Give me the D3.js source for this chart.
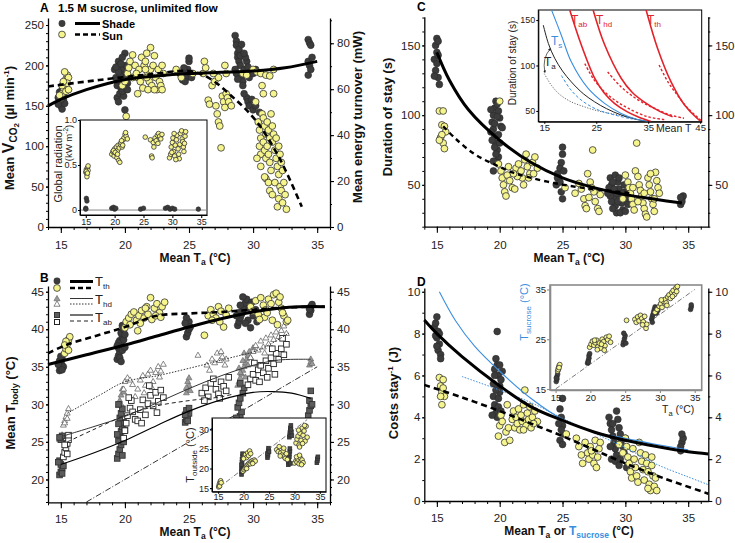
<!DOCTYPE html>
<html><head><meta charset="utf-8">
<script src="https://cdn.jsdelivr.net/npm/d3@7"></script>
<style>body{margin:0;background:#fff}svg{font-family:"Liberation Sans",Arial,sans-serif}</style>
</head><body><script>
// ---------------- DATA ----------------
// Panel A: mean VCO2 (µl/min) vs Ta
const A_shade=[[14.8,160],[14.9,155],[15.0,150],[15.1,146],[15.0,163],[15.2,158],[14.9,167],[15.1,170],[15.3,153],[15.0,157],[15.2,162],[14.8,152],[15.1,165],
[19.2,195],[19.3,185],[19.4,175],[19.5,205],[19.6,200],[19.4,160],[19.5,155],[19.6,165],[19.7,180],[19.8,190],[19.9,170],[20.0,215],[20.0,145],[19.8,210],[19.9,196],[20.1,186],[20.2,178],[19.6,188],[19.5,192],[19.7,172],[19.9,162],[19.8,168],[20.1,200],[19.3,198],[19.7,202],[20.2,170],[19.4,182],
[24.4,188],[24.5,182],[24.6,192],[24.8,185],[24.9,195],[25.0,205],[25.0,209],[25.1,190],[24.7,180],[24.3,190],[25.2,185],[24.6,197],
[28.6,237],[28.7,230],[28.7,225],[28.8,215],[28.8,210],[28.9,205],[29.0,200],[28.6,195],[28.7,190],[29.1,185],[29.2,180],[29.3,195],[29.4,190],[29.5,205],[29.6,198],[28.9,220],[29.0,212],[29.2,175],[29.7,185],[29.8,192],[30.0,190],[30.2,195],[28.8,183],[29.4,210],[29.1,226],[29.3,215],[29.5,160],[29.6,155],[29.7,150],[29.9,158],[30.0,145],[30.2,150],[30.5,142],[29.3,165],
[34.3,232],[34.4,228],[34.5,225],[34.3,205],[34.4,200],[34.5,195],[34.3,188],[34.6,210]];
const A_sun=[[15.0,160],[15.1,165],[15.2,172],[15.3,178],[15.4,183],[15.5,188],[15.6,185],[15.3,192],[15.1,175],[15.4,168],[15.5,178],[15.2,180],[15.6,170],[14.9,163],
[19.8,175],[20.0,180],[20.1,137],[20.2,190],[20.3,197],[20.4,205],[20.6,213],[20.8,200],[21.0,185],[21.0,165],[21.2,180],[21.3,210],[21.5,200],[21.6,205],[21.7,215],[21.8,190],[21.9,180],[22.0,222],[22.0,195],[22.1,175],[22.2,200],[22.3,212],[22.4,185],[22.5,170],[22.6,195],[22.7,180],[22.8,175],[22.9,200],[23.0,190],[21.4,172],[21.8,170],[22.3,170],[21.1,195],[20.6,185],[21.6,195],[22.9,170],[20.9,190],[21.7,185],
[24.0,195],[24.4,185],[25.3,190],[26.1,190],[26.3,197],[26.2,205],
[26.5,157],[26.6,152],[26.8,175],[27.0,180],[27.1,150],[27.2,140],[27.3,130],[27.4,125],[27.5,98],[27.6,162],[27.7,155],[27.8,148],[27.9,165],[28.0,160],[28.1,155],[27.3,185],[27.8,200],[26.9,190],[27.9,190],[28.3,150],
[29.2,190],[29.5,188],[30.0,195],[30.3,192],[30.6,190],[31.0,188],[31.3,187],[31.6,195],[30.7,175],[30.2,155],[30.8,165],[31.6,165],
[30.4,130],[30.5,120],[30.6,110],[30.5,100],[30.6,90],[30.7,140],[30.8,135],[30.9,125],[31.0,115],[30.8,105],[30.9,95],[31.0,85],[31.1,130],[31.2,120],[31.3,110],[31.1,100],[31.2,90],[31.3,80],[31.4,140],[31.5,125],[31.6,115],[31.5,105],[31.7,95],[31.4,70],[31.0,60],[30.9,62],[31.2,55],[31.3,45],[31.5,40],[31.8,85],[31.9,75],[32.0,65],[31.7,55],[32.1,50],[32.2,45],[32.0,35],[31.9,25],[32.3,30],[32.5,40],[32.4,55],[32.6,22],[32.2,80],[32.0,100],[31.8,110],[32.3,70],[32.1,90],[30.6,75],[30.3,85]];
const A_fitShade=[[14,150],[15,158],[17,170],[19.85,182],[22.5,187],[25,190],[27.5,191.5],[30,193],[32.5,197],[35,205]];
const A_fitSun=[[14,174],[18,182],[22,189],[25,193],[26.5,185],[28.4,161],[30.2,132],[32,87],[33.8,25]];
// Panel A inset: global radiation (kW m-2)
const Ai_sun=[[15.0,0.42],[15.1,0.45],[15.2,0.40],[15.3,0.47],[15.4,0.44],[15.2,0.37],[15.4,0.49],[15.1,0.43],[15.3,0.41],
[19.5,0.62],[19.7,0.65],[19.9,0.6],[20.0,0.68],[20.2,0.63],[20.3,0.7],[20.5,0.66],[20.6,0.72],[20.8,0.69],[21.0,0.73],[21.1,0.75],[21.3,0.7],[21.5,0.78],[21.6,0.8],[21.8,0.84],[22.0,0.82],[22.2,0.79],[20.4,0.58],[20.7,0.55],[20.9,0.53],[19.8,0.66],[20.1,0.64],[21.2,0.77],[21.9,0.86],[20.5,0.62],[21.4,0.72],
[25.3,0.81],[26.2,0.78],[26.4,0.6],[26.5,0.58],[26.7,0.75],[27.0,0.8],[27.2,0.77],[27.4,0.83],[27.6,0.85],[27.8,0.82],[28.0,0.79],[28.2,0.84],[26.8,0.7],[27.5,0.74],
[29.5,0.58],[29.7,0.62],[29.8,0.7],[30.0,0.75],[30.1,0.8],[30.2,0.65],[30.4,0.6],[30.5,0.72],[30.7,0.78],[30.8,0.83],[31.0,0.68],[31.1,0.62],[31.3,0.73],[31.4,0.85],[31.6,0.88],[31.7,0.79],[31.9,0.7],[32.0,0.65],[32.2,0.82],[32.3,0.87],[31.2,0.57],[30.6,0.56],[29.9,0.64],[31.8,0.76],[30.3,0.85],[32.1,0.74]];
const Ai_shade=[[15.0,0.02],[15.1,0.13],[15.2,0.1],[15.0,0.01],[19.5,0.02],[19.8,0.03],[20.0,0.01],[20.2,0.02],[24.5,0.01],[25.0,0.02],[28.8,0.02],[29.2,0.03],[29.6,0.01],[30.0,0.02],[30.4,0.01],[34.5,0.01]];

// Panel B: body temperatures
const B_thShade=[[14.9,34.5],[15.0,34.8],[15.1,35.2],[15.0,35.5],[14.9,35.8],[15.1,36.1],[15.0,36.4],[15.2,35.0],[14.8,35.3],[15.1,34.6],
[19.4,36.0],[19.5,36.5],[19.6,37.0],[19.5,37.5],[19.7,38.0],[19.6,38.5],[19.8,39.0],[19.7,39.5],[19.9,40.0],[19.5,38.2],[19.8,37.2],[19.6,36.2],[19.9,38.6],[20.0,39.3],[19.4,37.8],[19.7,35.7],[20.0,37.6],[19.8,40.5],
[24.8,39.0],[24.9,39.5],[25.0,40.0],[24.9,40.5],[25.0,41.0],[24.8,41.5],[25.1,40.3],[24.7,40.8],
[28.8,40.5],[28.9,41.0],[29.0,41.5],[29.1,42.0],[29.2,42.5],[29.3,43.0],[29.4,43.5],[29.5,44.0],[29.2,44.3],[28.9,42.2],[29.6,41.2],[29.7,42.8],[29.8,40.2],[30.0,41.8],[30.2,42.6],[29.4,40.8],[29.0,43.2],[29.9,43.6],[30.3,41.0],[28.7,41.8],
[34.4,42.0],[34.5,42.5],[34.5,43.0],[34.6,43.3],[34.4,42.7]];
const B_thSun=[[15.3,36.8],[15.4,37.4],[15.5,38.0],[15.6,38.6],[15.7,39.0],[15.4,38.4],[15.6,37.2],[15.3,37.9],
[20.0,40.2],[20.1,41.0],[20.3,41.5],[20.5,42.0],[20.7,42.3],[20.4,40.6],[20.9,41.2],[21.1,41.8],[21.3,42.5],[21.5,41.5],[21.7,43.0],[21.8,42.0],[22.0,44.2],[22.1,41.3],[22.3,42.8],[22.5,43.4],[22.7,42.2],[22.9,43.0],[23.1,43.6],[21.2,40.8],[21.0,39.8],[22.4,41.8],[21.6,42.8],[22.8,41.6],
[26.2,39.2],[26.5,41.8],[26.7,42.6],[26.9,42.0],[27.1,41.5],[27.3,43.0],[27.5,42.4],[27.7,40.3],[27.9,41.9],[28.1,42.8],[26.8,41.2],[27.4,41.0],
[29.8,43.0],[30.0,42.4],[30.2,43.8],[30.4,42.0],[30.6,44.2],[30.8,43.2],[31.0,42.6],[31.2,44.0],[31.4,43.4],[31.6,44.6],[31.8,44.8],[32.0,43.6],[32.2,42.8],[32.4,41.8],[32.6,41.0],[32.3,42.2],[31.5,41.2],[30.9,41.6],[31.9,40.6],[32.7,41.2],[31.1,42.2],[30.5,41.3],[32.1,44.3]];
const B_hdShade=[[15.0,25.6],[15.1,25.9],[14.9,25.3],
[19.6,30.5],[19.7,31.2],[19.8,32.0],[19.5,29.8],[19.9,31.6],[19.7,30.0],
[24.8,31.5],[24.9,32.0],[25.0,32.5],[24.9,33.0],[25.0,33.5],[24.8,32.2],[25.1,31.8],
[28.8,32.5],[28.9,33],[29.0,33.5],[29.1,34],[29.2,34.5],[29.3,35],[29.4,35.5],[29.5,36],[29.6,36.5],[29.7,37],[29.0,34.2],[29.2,35.8],[29.4,33.6],[28.9,34.8],[29.6,35.2],[29.8,36.2],[30.0,37.5],[29.3,36.8],
[34.4,35.2],[34.5,35.6],[34.5,36.0],[34.6,35.4]];
const B_hdSun=[[15.2,27.2],[15.3,27.8],[15.4,28.3],[15.5,28.8],[15.6,29.4],[15.3,27.5],[15.5,28.1],
[19.9,32.0],[20.0,33.0],[20.2,33.5],[20.4,33.2],[20.6,32.6],[21.0,32.0],[21.2,33.2],[21.4,33.8],[21.6,32.5],[21.8,34.0],[22.0,34.5],[22.2,33.0],[22.4,34.2],[22.6,35.0],[22.8,34.4],[23.0,35.3],[21.5,31.5],[22.1,32.2],[20.8,31.0],[22.7,33.6],
[25.7,36.5],[26.4,35.2],[26.6,34.5],[26.8,36.0],[27.0,35.5],[27.2,36.8],[27.4,35.8],[27.6,36.3],[27.8,35.2],[27.9,36.0],[27.5,37.0],
[29.8,36.2],[30.0,37.0],[30.2,37.8],[30.4,37.2],[30.6,38.4],[30.8,37.6],[31.0,38.8],[31.2,38.0],[31.4,39.2],[31.6,38.6],[31.8,39.6],[32.0,39.0],[32.2,39.8],[32.4,40.4],[32.6,39.4],[31.5,37.4],[30.9,36.8]];
const B_abShade=[[14.9,20.6],[15.0,21.0],[15.1,21.5],[15.0,22.0],[14.9,22.5],[15.2,21.8],[15.1,20.8],[14.8,22.3],[15.0,25.3],[15.1,25.8],[14.9,25.6],
[19.4,22.8],[19.5,23.4],[19.6,24.0],[19.7,24.6],[19.5,25.2],[19.6,25.8],[19.7,26.4],[19.8,27.0],[19.9,27.6],[19.6,28.2],[19.7,28.8],[19.8,29.4],[19.5,30.0],[19.4,26.0],[19.9,25.0],[20.0,26.6],[19.8,23.2],[19.5,27.4],
[24.7,27.6],[24.8,28.0],[24.9,28.4],[25.0,28.8],[24.8,29.2],[24.9,27.8],[25.0,29.5],[24.7,28.6],
[28.7,26.5],[28.8,27.2],[28.9,27.8],[29.0,28.4],[29.1,29.0],[28.8,29.6],[28.9,30.2],[29.0,30.8],[28.7,28.2],[29.1,27.0],[29.2,31.5],[29.3,32.2],[29.0,32.8],
[34.3,28.5],[34.4,29.2],[34.5,29.8],[34.4,30.5],[34.5,31.8],[34.6,30.0]];
const B_abSun=[[15.2,23.0],[15.3,23.6],[15.4,24.2],[15.5,24.8],[15.6,25.3],[15.3,24.6],[15.5,23.4],[15.6,25.9],
[19.9,25.5],[20.0,26.5],[20.1,27.5],[20.2,28.5],[20.4,29.5],[20.5,30.5],[20.6,29.0],[20.8,28.0],[21.0,27.8],[21.2,29.3],[21.4,30.6],[21.6,28.6],[21.8,30.1],[22.0,31.2],[22.2,29.8],[22.4,31.6],[22.6,30.4],[22.8,31.9],[23.0,30.9],[21.3,27.5],[20.3,30.9],[21.9,32.5],[22.5,28.9],
[26.0,31.5],[26.3,32.2],[26.5,31.0],[26.7,32.8],[26.9,33.4],[27.1,32.0],[27.3,31.4],[27.5,33.0],[27.7,32.4],[27.9,31.8],[28.1,33.6],[27.4,30.8],[26.2,30.5],
[29.6,32.6],[29.8,33.4],[30.0,34.0],[30.2,33.2],[30.4,34.6],[30.6,35.2],[30.8,34.2],[31.0,35.8],[31.2,34.8],[31.4,36.2],[31.6,35.4],[31.8,36.8],[32.0,36.0],[32.2,37.4],[32.4,36.6],[32.6,38.0],[30.5,33.0],[31.1,33.6],[31.7,34.0],[32.3,38.8],[30.1,35.5],[31.5,37.4]];
const B_fitThShade=[[14,35.3],[17,36.6],[20,37.9],[22.5,39.1],[25,40.3],[27.5,41.4],[30,42.3],[32,42.8],[33.6,43],[35.6,43]];
const B_fitThSun=[[14,36.8],[15.4,37.9],[17.5,39.0],[20,40.3],[22.5,41.8],[25,42.1],[27.5,42.3],[30,42.6],[32.5,42.9],[35.6,43]];
const B_fitHdShade=[[15.2,25.8],[17.5,27],[20,28.4],[22.5,30.2],[25,32.1],[27.5,33.8],[30,35.2],[32,35.9],[34.5,36.0]];
const B_fitHdSun=[[15.5,28.8],[18,31.2],[20,33.0],[22.5,33.8],[25,34.8],[28,36.1],[30.5,37.3],[32.8,39.5]];
const B_fitAbShade=[[15,22],[17.5,23.5],[20,25.2],[22.5,27.2],[25,29.1],[27.5,30.6],[30,31.6],[31.5,31.7],[33,31.5],[34.5,30.8]];
const B_fitAbSun=[[15.5,25],[17.5,26.6],[20,28.5],[22.5,29.8],[25,30.5],[27.5,31.0],[28.5,31.4]];
const B_identity=[[17,17],[35,35]];
// Panel B inset: T outside
const Bi_sun=[[15.1,15.3],[15.2,15.8],[15.3,16.2],[15.4,16.6],[15.5,16.9],[15.3,15.5],[15.6,16.4],
[19.9,19.3],[20.1,19.7],[20.3,20.1],[20.5,20.4],[20.7,20.8],[20.9,21.1],[21.1,21.4],[21.3,21.2],[21.5,21.8],[21.7,22.0],[21.9,21.6],[22.1,22.2],[22.3,21.9],[20.2,23.0],[20.4,23.6],[20.6,22.8],[20.8,24.0],[21.0,23.3],[21.2,24.5],[21.4,23.8],[20.0,22.5],[20.6,20.0],[21.8,21.3],
[26.5,24.8],[26.8,24.3],[27.0,25.6],[27.3,24.0],[27.6,23.5],[27.8,24.5],[28.0,23.0],[28.2,22.6],[28.4,23.8],[28.6,22.3],[27.2,23.2],[27.9,25.2],
[30.0,21.4],[30.3,22.0],[30.5,21.6],[30.7,22.4],[30.9,21.2],[31.1,22.8],[31.3,21.8],[31.5,22.2],[31.7,21.5],[30.4,23.0],[31.0,23.4],[31.4,21.0],
[30.3,26.5],[30.5,27.5],[30.7,28.3],[30.9,26.0],[31.1,29.0],[31.3,27.2],[31.5,30.3],[31.7,28.5],[31.9,29.6],[32.1,27.0],[32.3,30.8],[32.5,28.0],[31.0,25.5],[31.6,26.4],[32.0,31.0],[30.8,29.8]];
const Bi_shade=[[19.6,18.5],[19.6,19.2],[19.6,20.0],[19.7,20.8],[19.7,21.6],[19.7,22.4],[19.8,23.1],[19.8,23.8],[19.6,21.0],[19.7,19.6],
[24.7,22.8],[24.8,23.4],[24.8,24.0],[24.9,24.6],[24.9,25.2],[24.7,23.8],[25.0,24.3],
[28.8,21.0],[28.9,21.6],[28.9,22.3],[29.0,23.0],[29.0,23.7],[29.1,24.4],[29.1,25.1],[28.8,22.0],[29.2,21.3],
[29.0,28.0],[29.1,28.6],[29.1,29.2],[29.2,29.8],[29.2,30.4],[29.3,31.0],[29.4,29.4],[29.5,28.4],[29.3,30.0],
[34.4,21.5],[34.5,22.0],[34.5,22.5],[34.6,23.0]];
const Bi_identity=[[15,15],[32.5,32.5]];

// Panel C: duration of stay (s)
const C_shade=[[14.8,140],[14.9,150],[15.0,155],[15.1,153],[15.0,145],[14.9,132],[15.1,127],[15.2,122],[15.0,137],[15.1,143],[14.8,128],
[19.4,95],[19.5,100],[19.6,105],[19.7,110],[19.8,108],[19.9,103],[19.5,90],[19.6,85],[19.7,80],[19.8,75],[19.9,70],[20.0,98],[20.1,92],[19.3,88],[19.4,82],[19.6,77],[19.8,66],[19.5,60],[19.7,72],[19.9,86],[20.0,80],[20.2,91],[19.3,104],[19.6,94],[19.8,99],[19.5,67],
[24.5,50],[24.6,58],[24.8,62],[24.9,66],[25.0,72],[25.0,77],[24.7,55],[24.9,45],[25.0,40],[24.6,55],[25.1,60],[24.8,52],
[28.8,55],[28.9,50],[29.0,45],[29.1,40],[29.2,35],[29.3,30],[28.7,48],[28.8,42],[28.9,38],[29.0,33],[29.4,52],[29.5,47],[29.6,42],[29.7,37],[29.8,32],[29.9,50],[30.0,45],[30.1,40],[30.2,36],[29.2,57],[29.5,55],[29.3,44],[29.6,30],[30.3,47],[29.0,52],[29.4,38],[29.8,44],[30.0,31],[28.6,44],[29.1,47],
[34.4,36],[34.5,40],[34.6,42],[34.5,38],[34.4,41]];
const C_sun=[[15.2,103],[15.5,103],[15.4,93],[15.6,92],[15.7,88],[15.3,84],[15.5,80],[15.6,76],[15.4,86],[15.2,82],
[20.0,110],[19.9,65],[20.1,60],[20.2,55],[20.3,50],[20.4,45],[20.5,42],[20.6,57],[20.8,53],[21.0,48],[21.2,47],[21.3,62],[21.5,65],[21.7,60],[21.8,55],[22.0,68],[22.1,72],[22.2,63],[22.4,58],[22.6,66],[22.8,70],[23.0,62],[21.9,50],[22.3,55],[21.4,56],[20.7,63],[22.7,58],[21.1,58],
[25.2,48],[26.0,44],[26.3,51],[26.5,47],[26.7,40],[26.8,35],[26.9,33],[27.0,58],[27.2,52],[27.4,75],[27.5,45],[27.6,38],[27.8,33],[27.9,31],[28.0,43],[27.3,48],[27.1,41],
[29.8,40],[30.0,57],[30.2,52],[30.3,48],[30.4,44],[30.5,40],[30.6,36],[30.7,32],[30.8,60],[30.9,80],[31.0,56],[31.1,50],[31.2,46],[31.3,42],[31.4,37],[31.5,33],[31.6,29],[31.7,27],[31.8,55],[31.9,50],[32.0,45],[32.1,40],[32.2,36],[32.3,31],[32.4,59],[32.5,53],[32.6,48],[32.7,44],[31.0,38],[31.5,44],[32.0,58],[30.6,48],[32.3,40]];
const C_fitShade=[[15,145],[16,125],[17.5,104],[20,82],[22.5,66],[25,55],[27.5,48],[30,43],[32.5,39.5],[34.5,37]];
const C_fitSun=[[15.5,92],[16.5,83],[18,72],[19.5,65],[21,59],[22.5,55],[24.5,51],[26.5,48],[28.5,46],[30.5,44]];
// Panel C inset curves: duration vs mean temperature
const Ci_TaShade=[[14.8,144.5],[15.8,124],[17,108],[18.5,94],[20.2,82],[22.5,69],[24.7,60],[27,52.5],[29.8,45.6],[32.5,41],[34.9,38.5]];
const Ci_TaSun=[[15,91],[16.4,78],[18,68],[20.2,60],[22.5,55],[24.7,51],[27,48],[29.8,45],[33,40.5]];
const Ci_TsShade=[[16.4,161],[18.3,133],[20.2,104],[23.4,75],[26.6,58.4],[29.8,47.3],[32.5,41.5],[34.9,38.5]];
const Ci_TsSun=[[18.3,89],[20,74],[22.1,62],[25,52],[28.5,45.6],[32,41]];
const Ci_TabShade=[[19.9,161],[22.1,123],[24.7,86],[26.5,70],[28.5,58.4],[31,49],[33,43.7],[35.5,38.5]];
const Ci_TabSun=[[22.8,102],[24.5,85],[26.6,71],[28.8,61],[31.1,53],[34.9,43.7],[38.1,40.5]];
const Ci_ThdShade=[[24.4,161],[26.6,123],[29.8,86],[32,70],[34.2,60],[37.4,49],[39.7,43.7]];
const Ci_ThdSun=[[27.2,93],[29.5,78],[31.7,67.5],[34,59],[36.2,53],[39,46],[41.9,42]];
const Ci_TthShade=[[34.6,161],[36.8,119],[39.4,82],[42,56.5],[44.4,42],[45.1,39]];
const Ci_TthSun=[[37.1,100.5],[38.8,82],[40.6,67.5],[42.8,52],[45.1,40]];

// Panel D: costs per stay (J)
const D_shade=[[14.8,8.3],[14.9,8.5],[15.0,8.8],[15.1,8.1],[15.0,7.8],[15.2,7.5],[15.1,7.2],[15.3,7.0],[14.9,7.9],[15.2,8.0],[15.0,7.4],[15.3,6.8],
[19.6,6.3],[19.7,6.8],[19.8,6.5],[19.9,6.0],[20.0,5.5],[20.1,5.8],[19.5,5.0],[19.6,4.6],[19.7,4.2],[19.8,4.0],[19.9,4.9],[20.0,5.2],[19.8,8.1],[20.2,6.2],[19.5,5.6],[19.7,5.3],[19.9,4.5],[20.1,4.3],[19.4,4.1],[19.6,6.0],[20.0,6.5],
[24.8,4.4],[24.9,4.0],[25.0,3.6],[25.1,3.2],[24.8,2.9],[25.0,2.7],[24.9,3.4],[25.0,4.9],[24.7,3.7],
[28.7,4.0],[28.8,3.7],[28.9,3.4],[29.0,3.1],[29.1,2.8],[29.2,2.5],[29.3,2.2],[29.4,3.9],[29.5,3.5],[29.6,3.2],[29.7,2.9],[29.8,2.6],[29.9,2.3],[28.9,2.0],[29.2,1.9],[29.5,1.7],[29.3,4.3],[28.8,2.6],[29.6,2.0],[30.0,3.0],[30.1,1.6],[29.0,3.7],[29.4,2.7],
[34.4,2.4],[34.5,2.8],[34.6,3.0],[34.5,3.2],[34.4,2.6]];
const D_sun=[[15.2,5.9],[15.3,5.5],[15.4,5.2],[15.5,5.8],[15.6,5.0],[15.4,4.6],[15.5,5.4],[15.3,5.0],
[19.9,3.1],[20.0,3.6],[20.1,4.1],[20.2,3.8],[20.4,2.8],[20.5,3.3],[20.7,3.5],[20.8,2.9],[21.0,3.9],[21.1,4.3],[21.2,3.5],[21.3,4.0],[21.4,3.7],[21.5,4.4],[21.6,3.4],[21.7,4.1],[21.8,3.8],[21.9,4.6],[22.0,5.3],[22.1,3.6],[22.2,4.2],[22.3,3.9],[22.4,4.5],[22.5,3.5],[22.6,4.0],[22.8,4.3],[23.0,3.8],[20.6,4.6],[21.9,3.4],[22.7,3.7],
[25.3,3.2],[26.1,3.0],[26.3,2.6],[26.5,2.2],[26.6,1.8],[26.8,2.8],[27.0,2.3],[27.1,2.0],[27.2,2.6],[27.4,2.2],[27.5,1.8],[27.6,2.9],[27.7,1.6],[27.8,2.1],[27.9,2.5],[28.0,2.8],[27.3,2.4],
[29.5,2.7],[29.8,2.3],[30.0,3.0],[30.1,2.6],[30.2,2.1],[30.3,1.8],[30.4,1.4],[30.5,1.1],[30.6,2.5],[30.7,2.0],[30.8,1.6],[30.9,1.2],[31.0,0.9],[31.1,2.8],[31.2,2.3],[31.3,1.9],[31.4,1.5],[31.5,1.0],[31.6,2.2],[31.7,1.8],[31.8,1.4],[31.9,0.8],[32.0,0.5],[32.1,1.7],[32.2,1.2],[32.3,0.7],[32.4,1.1],[32.5,0.5],[32.1,2.1],[31.8,0.6]];
const D_fitShade=[[14,8.65],[15,8.0],[17,6.9],[20,5.5],[22.5,4.5],[25,3.85],[27.5,3.3],[30,2.9],[32.5,2.6],[35,2.35],[36.6,2.25]];
const D_fitSun=[[14,5.55],[17,4.95],[20,4.3],[22.5,3.7],[25,3.1],[27.5,2.45],[30,1.8],[33,1.1],[36.6,0.35]];
const D_fitTsShade=[[15.2,10],[16.5,8.6],[18,7.4],[20,6.2],[22.5,4.9],[25,3.9],[27.5,3.3],[30,3.0],[32.5,2.7],[35,2.45]];
const D_fitTsSun=[[17,5.95],[20,5.3],[22.5,4.7],[25,3.95],[27.5,3.25],[30,2.55],[32.5,1.75],[35,1.15],[36.6,0.78]];
// Panel D inset: T sucrose vs Ta
const Di_sun=[[15.3,18.6],[15.4,19.2],[15.5,19.6],[15.6,19.9],[15.4,18.9],[15.5,19.3],
[19.9,23.4],[20.1,24.0],[20.3,24.6],[20.5,23.8],[20.7,24.3],[20.9,24.8],[21.1,23.5],[21.3,24.2],[21.5,23.2],[21.7,25.0],[21.9,24.5],[22.1,23.7],[22.3,25.4],[22.5,24.9],[22.7,25.6],[22.9,24.4],[21.0,22.9],[22.0,22.8],[21.6,24.0],[20.6,24.8],
[25.2,28.8],[26.4,29.0],[26.6,28.4],[26.8,29.5],[27.0,28.7],[27.2,29.8],[27.4,29.2],[27.6,28.5],[27.8,29.6],[28.0,27.2],[28.1,28.0],[27.5,27.9],
[29.3,30.4],[29.6,31.0],[29.9,31.6],[30.1,32.1],[30.3,31.4],[30.5,32.6],[30.7,33.0],[30.9,32.3],[31.1,33.5],[31.3,33.9],[31.5,33.2],[31.7,34.4],[31.9,34.8],[32.1,34.0],[32.3,35.3],[32.5,35.6],[30.2,32.9],[31.0,31.8],[31.8,33.6],[32.4,34.6]];
const Di_shade=[[15.1,16.5],[15.2,17.0],[15.2,17.5],[15.3,18.0],[15.1,17.2],
[19.6,20.2],[19.7,20.7],[19.8,21.2],[19.8,21.7],[19.9,22.1],[19.7,20.4],
[24.7,23.9],[24.8,24.5],[24.9,25.1],[25.0,25.7],[24.8,26.2],[25.1,24.2],
[28.8,29.0],[28.9,29.5],[29.0,30.0],[29.1,30.5],[29.2,31.0],[29.3,31.5],[29.5,30.2],[29.7,30.8],[28.9,28.4],
[34.4,31.0],[34.5,31.5],[34.5,31.9]];
const Di_identity=[[15,15],[35,35]];

// tick values
const xTicks=[15,20,25,30,35];
const A_yTicks=[0,50,100,150,200,250], A_y2Ticks=[0,20,40,60,80];
const Ai_yTicks=[0,0.5,1.0];
const B_yTicks=[20,25,30,35,40,45], Bi_yTicks=[15,20,25,30];
const C_yTicks=[50,100,150], Ci_yTicks=[50,100,150], Ci_xTicks=[15,25,35,45];
const D_yTicks=[0,2,4,6,8,10], Di_yTicks=[15,25,35];

// ---------------- DRAWING ----------------
const W=735,H=543;
const svg=d3.select('body').append('svg').attr('width',W).attr('height',H);
const DARK='#3c3c3c', YEL='#f6f48c', BLUE='#3a8ee0', RED='#e3232b';
const TFS=11.5;

function axis(g,scale,side,at,major,minor,fmt,o={}){
  const gen={bottom:d3.axisBottom,top:d3.axisTop,left:d3.axisLeft,right:d3.axisRight}[side];
  const tr=(side==='bottom'||side==='top')?`translate(0,${at})`:`translate(${at},0)`;
  const a=g.append('g').attr('transform',tr)
    .call(gen(scale).tickValues(major).tickFormat(fmt||d3.format('')).tickSizeOuter(0).tickSizeInner(o.tick??5).tickPadding(o.pad??3));
  a.attr('font-family',null).attr('font-size',null);
  a.select('.domain').attr('stroke',o.color||'#000').attr('stroke-width',o.sw??1.3);
  a.selectAll('.tick line').attr('stroke',o.color||'#000').attr('stroke-width',o.tw??1.1);
  a.selectAll('text').attr('font-size',o.fs??TFS).attr('fill',o.tcolor||'#222');
  if(minor){
    const m=g.append('g').attr('transform',tr).call(gen(scale).tickValues(minor).tickFormat('').tickSizeOuter(0).tickSizeInner(o.mtick??3));
    m.select('.domain').remove();
    m.selectAll('.tick line').attr('stroke',o.color||'#000').attr('stroke-width',1);
  }
  return a;
}
function dots(g,data,x,y,kind,r){
  g.append('g').selectAll('circle').data(data).join('circle')
   .attr('cx',d=>x(d[0])).attr('cy',d=>y(d[1])).attr('r',r)
   .attr('fill',kind==='shade'?DARK:YEL).attr('stroke',kind==='shade'?'#2a2a2a':'#333').attr('stroke-width',kind==='shade'?0.6:0.8);
}
function squares(g,data,x,y,fill,stroke,s){
  g.append('g').selectAll('rect').data(data).join('rect')
   .attr('x',d=>x(d[0])-s/2).attr('y',d=>y(d[1])-s/2).attr('width',s).attr('height',s)
   .attr('fill',fill).attr('stroke',stroke).attr('stroke-width',0.9);
}
function tris(g,data,x,y,fill,stroke,s){
  g.append('g').selectAll('path').data(data).join('path')
   .attr('d',d3.symbol(d3.symbolTriangle,s*s*0.5))
   .attr('transform',d=>`translate(${x(d[0])},${y(d[1])})`)
   .attr('fill',fill).attr('stroke',stroke).attr('stroke-width',0.7);
}
function curve(g,data,x,y,color,w,dash,cv){
  g.append('path').datum(data).attr('fill','none').attr('stroke',color).attr('stroke-width',w)
   .attr('stroke-dasharray',dash||null)
   .attr('d',d3.line().x(d=>x(d[0])).y(d=>y(d[1])).curve(cv||d3.curveCatmullRom.alpha(0.5)));
}
function rotLabel(x,y,build){
  const t=svg.append('text').attr('transform',`translate(${x},${y}) rotate(-90)`).attr('text-anchor','middle')
    .attr('font-weight','bold').attr('font-size',13).attr('fill','#111');
  build(t); return t;
}
function sub(t,s,fs,dy){t.append('tspan').attr('font-size',fs).attr('dy',dy).text(s);}
function mainTitle(x,y,parts){
  const t=svg.append('text').attr('x',x).attr('y',y).attr('text-anchor','middle').attr('font-weight','bold').attr('font-size',12).attr('fill','#111');
  parts(t);
}
const minors=(a,b,s)=>d3.range(a,b+1e-9,s);
const taTitle=t=>{t.append('tspan').text('Mean T');sub(t,'a',8.5,3);t.append('tspan').attr('dy',-3).text(' (°C)');};

// ===== Panel A =====
{
 const x=d3.scaleLinear([14,36],[48,330]);
 const y=d3.scaleLinear([0,258.7],[227,18]);
 const y2=d3.scaleLinear([0,91],[227,18]);
 const g=svg.append('g');
 dots(g,A_shade,x,y,'shade',3.4);
 dots(g,A_sun,x,y,'sun',3.4);
 curve(g,A_fitShade,x,y,'#000',3);
 curve(g,A_fitSun,x,y,'#000',2.6,'6,4');
 axis(g,x,'bottom',227,xTicks,minors(14,36,1),null,{tick:6,pad:8,mtick:3});
 axis(g,y,'left',48,A_yTicks,minors(0,250,10),null,{tick:2,pad:2,mtick:2});
 axis(g,y2,'right',330,A_y2Ticks,minors(0,90,10),null,{tick:4,pad:3,mtick:2});
 // inset
 const xi=d3.scaleLinear([14,36],[80,207]);
 const yi=d3.scaleLinear([-0.055,1.0],[215,120]);
 const gi=svg.append('g');
 gi.append('rect').attr('x',80).attr('y',120).attr('width',127).attr('height',95).attr('fill','#fff').attr('stroke','#000').attr('stroke-width',1);
 gi.append('line').attr('x1',80).attr('x2',207).attr('y1',yi(0)).attr('y2',yi(0)).attr('stroke','#888').attr('stroke-width',1);
 dots(gi,Ai_shade,xi,yi,'shade',2.3);
 dots(gi,Ai_sun,xi,yi,'sun',2.3);
 axis(gi,xi,'bottom',215,xTicks,null,null,{tick:3,pad:1,fs:9,sw:1});
 axis(gi,yi,'left',80,Ai_yTicks,null,d=>d===0?'0':d3.format('.1f')(d),{tick:2,pad:1,fs:9,sw:1});
 svg.append('text').attr('transform','translate(62,164) rotate(-90)').attr('text-anchor','middle').attr('font-size',11).attr('fill','#222').text('Global radiation');
 const t2=svg.append('text').attr('transform','translate(72,143) rotate(-90)').attr('text-anchor','middle').attr('font-size',9.5).attr('fill','#222');
 t2.append('tspan').text('(kW m'); sub(t2,'-2',6.5,-4); t2.append('tspan').attr('dy',4).text(')');
 // labels
 svg.append('text').attr('x',40).attr('y',12).attr('font-weight','bold').attr('font-size',12).text('A');
 svg.append('text').attr('x',58).attr('y',12).attr('font-weight','bold').attr('font-size',11.5).text('1.5 M sucrose, unlimited flow');
 svg.append('circle').attr('cx',62).attr('cy',23.5).attr('r',3.4).attr('fill',DARK);
 svg.append('line').attr('x1',75).attr('x2',100).attr('y1',23.5).attr('y2',23.5).attr('stroke','#000').attr('stroke-width',3);
 svg.append('text').attr('x',102).attr('y',27.5).attr('font-weight','bold').attr('font-size',11).text('Shade');
 svg.append('circle').attr('cx',62).attr('cy',34.5).attr('r',3.4).attr('fill',YEL).attr('stroke','#333').attr('stroke-width',0.8);
 svg.append('line').attr('x1',75).attr('x2',100).attr('y1',34.5).attr('y2',34.5).attr('stroke','#000').attr('stroke-width',2.6).attr('stroke-dasharray','5,3');
 svg.append('text').attr('x',102).attr('y',39.5).attr('font-weight','bold').attr('font-size',11).text('Sun');
 mainTitle(195,262,taTitle);
 rotLabel(14,128,t=>{t.append('tspan').text('Mean ');t.append('tspan').attr('font-size',16).text('V');sub(t,'CO',10,3);sub(t,'2',8,2);t.append('tspan').attr('dy',-5).text(' (µl min');sub(t,'-1',8,-5);t.append('tspan').attr('dy',5).text(')');});
 svg.append('text').attr('transform','translate(362,117) rotate(-90)').attr('text-anchor','middle').attr('font-weight','bold').attr('font-size',13).attr('fill','#111').text('Mean energy turnover (mW)');
}

// ===== Panel B =====
{
 const x=d3.scaleLinear([14,36],[48,330]);
 const y=d3.scaleLinear([16.96,45.76],[502.3,286]);
 const g=svg.append('g');
 curve(g,B_identity,x,y,'#333',1,'6,2,1,2',d3.curveLinear);
 tris(g,B_hdShade,x,y,'#9a9a9a','#6a6a6a',5.5);
 squares(g,B_abShade,x,y,'#5c5c5c','#333',5.6);
 tris(g,B_hdSun,x,y,'#fff','#555',5.5);
 squares(g,B_abSun,x,y,'#fff','#222',5.6);
 dots(g,B_thShade,x,y,'shade',3.4);
 dots(g,B_thSun,x,y,'sun',3.4);
 curve(g,B_fitThShade,x,y,'#000',3);
 curve(g,B_fitThSun,x,y,'#000',2.6,'6,4');
 curve(g,B_fitHdShade,x,y,'#333',1);
 curve(g,B_fitHdSun,x,y,'#333',1,'1.5,1.5');
 curve(g,B_fitAbShade,x,y,'#000',1.1);
 curve(g,B_fitAbSun,x,y,'#222',1,'4,3');
 axis(g,x,'bottom',502.3,xTicks,minors(14,36,1),null,{tick:6,pad:7,mtick:3});
 axis(g,y,'left',48,B_yTicks,minors(17,45,1),null,{tick:2,pad:2,mtick:2});
 axis(g,y,'right',330,B_yTicks,minors(17,45,1),null,{tick:4,pad:3,mtick:2});
 // inset
 const xi=d3.scaleLinear([13.8,36.2],[212,326]);
 const yi=d3.scaleLinear([14.1,32.9],[491.7,418]);
 const gi=svg.append('g');
 gi.append('rect').attr('x',212).attr('y',418).attr('width',114).attr('height',73.7).attr('fill','#fff').attr('stroke','#000').attr('stroke-width',1);
 curve(gi,Bi_identity,xi,yi,'#555',0.8,'5,2,1,2',d3.curveLinear);
 squares(gi,Bi_shade,xi,yi,'#444','#333',3.6);
 dots(gi,Bi_sun,xi,yi,'sun',2.3);
 axis(gi,xi,'bottom',491.7,xTicks,null,null,{tick:2,pad:0,fs:9,sw:1});
 axis(gi,yi,'left',212,Bi_yTicks,null,null,{tick:2,pad:1,fs:9,sw:1});
 const tl=svg.append('text').attr('transform','translate(194,455) rotate(-90)').attr('text-anchor','middle').attr('font-size',11).attr('fill','#222');
 tl.append('tspan').text('T');sub(tl,'outside',8,3);tl.append('tspan').attr('dy',-3).text(' (°C)');
 // legend
 svg.append('text').attr('x',40).attr('y',282).attr('font-weight','bold').attr('font-size',12).text('B');
 svg.append('circle').attr('cx',57).attr('cy',281).attr('r',3.4).attr('fill',DARK);
 svg.append('circle').attr('cx',57).attr('cy',288).attr('r',3.4).attr('fill',YEL).attr('stroke','#333').attr('stroke-width',0.8);
 svg.append('line').attr('x1',70).attr('x2',93).attr('y1',281.5).attr('y2',281.5).attr('stroke','#000').attr('stroke-width',3);
 svg.append('line').attr('x1',70).attr('x2',93).attr('y1',288).attr('y2',288).attr('stroke','#000').attr('stroke-width',2.6).attr('stroke-dasharray','5,3');
 const leg=(yy,s)=>{const t=svg.append('text').attr('x',95).attr('y',yy).attr('font-size',13).attr('fill','#222');t.append('tspan').text('T');sub(t,s,8,3);};
 leg(286,'th');
 svg.append('path').attr('d',d3.symbol(d3.symbolTriangle,16)).attr('transform','translate(57,299)').attr('fill','#9a9a9a').attr('stroke','#6a6a6a').attr('stroke-width',0.7);
 svg.append('path').attr('d',d3.symbol(d3.symbolTriangle,16)).attr('transform','translate(57,304.5)').attr('fill','#fff').attr('stroke','#555').attr('stroke-width',0.7);
 svg.append('line').attr('x1',70).attr('x2',93).attr('y1',298.5).attr('y2',298.5).attr('stroke','#333').attr('stroke-width',1);
 svg.append('line').attr('x1',70).attr('x2',93).attr('y1',304).attr('y2',304).attr('stroke','#333').attr('stroke-width',1).attr('stroke-dasharray','1.5,1.5');
 leg(304,'hd');
 svg.append('rect').attr('x',54.5).attr('y',312.5).attr('width',5).attr('height',5).attr('fill','#5c5c5c').attr('stroke','#333');
 svg.append('rect').attr('x',54.5).attr('y',319.5).attr('width',5).attr('height',5).attr('fill','#fff').attr('stroke','#222');
 svg.append('line').attr('x1',70).attr('x2',93).attr('y1',315).attr('y2',315).attr('stroke','#000').attr('stroke-width',1.1);
 svg.append('line').attr('x1',70).attr('x2',93).attr('y1',321).attr('y2',321).attr('stroke','#222').attr('stroke-width',1).attr('stroke-dasharray','4,3');
 leg(322,'ab');
 mainTitle(195,536,taTitle);
 rotLabel(15,403,t=>{t.append('tspan').text('Mean T');sub(t,'body',9,3);t.append('tspan').attr('dy',-3).text(' (°C)');});
}

// ===== Panel C =====
{
 const x=d3.scaleLinear([14,36.6],[424.3,708.3]);
 const y=d3.scaleLinear([20,170.6],[226.7,16.7]);
 const g=svg.append('g');
 dots(g,C_shade,x,y,'shade',3.4);
 dots(g,C_sun,x,y,'sun',3.4);
 curve(g,C_fitShade,x,y,'#000',3);
 curve(g,C_fitSun,x,y,'#000',2.4,'5,4');
 axis(g,x,'bottom',226.7,xTicks,minors(14,36,1),null,{tick:6,pad:8,mtick:3});
 axis(g,y,'left',424.3,C_yTicks,minors(20,170,10),null,{tick:2,pad:2,mtick:2});
 axis(g,y,'right',708.3,C_yTicks,minors(20,170,10),null,{tick:4,pad:3,mtick:2});
 // inset
 const xi=d3.scaleLinear([13.85,45.3],[538.3,701.7]);
 const yi=d3.scaleLinear([38.2,161],[121.7,10]);
 const gi=svg.append('g');
 gi.append('rect').attr('x',538.3).attr('y',10).attr('width',163.4).attr('height',111.7).attr('fill','#fff').attr('stroke','#000').attr('stroke-width',1);
 svg.append('clipPath').attr('id','ciclip').append('rect').attr('x',538.3).attr('y',10).attr('width',163.4).attr('height',114);
 const gc=gi.append('g').attr('clip-path','url(#ciclip)');
 curve(gc,Ci_TaSun,xi,yi,'#555',0.9,'1.2,1.5');
 curve(gc,Ci_TaShade,xi,yi,'#222',1);
 curve(gc,Ci_TsSun,xi,yi,BLUE,1,'3,2');
 curve(gc,Ci_TsShade,xi,yi,BLUE,1.1);
 curve(gc,Ci_TabSun,xi,yi,RED,1.4,'2.5,2');
 curve(gc,Ci_TabShade,xi,yi,RED,1.6);
 curve(gc,Ci_ThdSun,xi,yi,RED,1.4,'2.5,2');
 curve(gc,Ci_ThdShade,xi,yi,RED,1.6);
 curve(gc,Ci_TthSun,xi,yi,RED,1.4,'2.5,2');
 curve(gc,Ci_TthShade,xi,yi,RED,1.6);
 axis(gi,xi,'bottom',121.7,Ci_xTicks,null,null,{tick:2,pad:1,fs:9.5,sw:1});
 axis(gi,yi,'left',538.3,Ci_yTicks,null,null,{tick:2,pad:1,fs:9,sw:1});
 svg.append('text').attr('x',656).attr('y',131.5).attr('font-size',10.5).attr('fill','#222').text('Mean T');
 svg.append('text').attr('transform','translate(516,63) rotate(-90)').attr('text-anchor','middle').attr('font-size',10).attr('fill','#222').text('Duration of stay (s)');
 const rl=(xx,s,c)=>{const t=svg.append('text').attr('x',xx).attr('y',24).attr('font-size',12).attr('fill',c);t.append('tspan').text('T');sub(t,s,8,3);};
 rl(571,'ab',RED); rl(596,'hd',RED); rl(647,'th',RED);
 const ts=svg.append('text').attr('x',551).attr('y',45).attr('font-size',12).attr('fill',BLUE);ts.append('tspan').text('T');sub(ts,'s',8,3);
 const ta=svg.append('text').attr('x',544).attr('y',66).attr('font-size',12).attr('fill','#222');ta.append('tspan').text('T');sub(ta,'a',8,3);
 svg.append('defs').append('marker').attr('id','ah').attr('viewBox','0 0 6 6').attr('refX',3).attr('refY',3).attr('markerWidth',4).attr('markerHeight',4).attr('orient','auto-start-reverse')
   .append('path').attr('d','M0,0L6,3L0,6Z').attr('fill','#222');
 svg.append('path').attr('d',`M${xi(15.1)},${yi(93)} Q${xi(14.6)},${yi(108)} ${xi(16.1)},${yi(118)}`).attr('fill','none').attr('stroke','#222').attr('stroke-width',0.7)
   .attr('marker-start','url(#ah)').attr('marker-end','url(#ah)');
 svg.append('text').attr('x',417).attr('y',11).attr('font-weight','bold').attr('font-size',12).text('C');
 mainTitle(569,262,taTitle);
 rotLabel(392,117,t=>{t.text('Duration of stay (s)');});
}

// ===== Panel D =====
{
 const x=d3.scaleLinear([14,36.6],[424.3,708.3]);
 const y=d3.scaleLinear([0,10.18],[501,288]);
 const g=svg.append('g');
 dots(g,D_shade,x,y,'shade',3.4);
 dots(g,D_sun,x,y,'sun',3.4);
 curve(g,D_fitTsShade,x,y,BLUE,1.1);
 curve(g,D_fitTsSun,x,y,BLUE,1,'1.5,1.5');
 curve(g,D_fitShade,x,y,'#000',3);
 curve(g,D_fitSun,x,y,'#000',2.6,'6,4');
 axis(g,x,'bottom',501,xTicks,minors(14,36,1),null,{tick:6,pad:7,mtick:3});
 axis(g,y,'left',424.3,D_yTicks,minors(0,10,1),null,{tick:2,pad:2,mtick:2});
 axis(g,y,'right',708.3,D_yTicks,minors(0,10,1),null,{tick:4,pad:3,mtick:2});
 // inset
 const xi=d3.scaleLinear([14.2,36],[550,701.7]);
 const yi=d3.scaleLinear([14.8,35.9],[390,285]);
 const gi=svg.append('g');
 gi.append('rect').attr('x',550).attr('y',285).attr('width',151.7).attr('height',105).attr('fill','#fff').attr('stroke','#8a8a8a').attr('stroke-width',1.6);
 curve(gi,Di_identity,xi,yi,'#555',0.8,'5,2,1,2',d3.curveLinear);
 dots(gi,Di_shade,xi,yi,'shade',2.4);
 dots(gi,Di_sun,xi,yi,'sun',2.4);
 axis(gi,xi,'bottom',390,xTicks,null,null,{tick:3,pad:1,fs:9.5,sw:1.6,color:'#8a8a8a'});
 axis(gi,yi,'left',550,Di_yTicks,null,null,{tick:3,pad:1,fs:9.5,sw:1.6,color:'#8a8a8a'});
 const tt=svg.append('text').attr('x',662).attr('y',413).attr('font-size',10.5).attr('fill','#222');
 tt.append('tspan').text('T');sub(tt,'a',7.5,3);tt.append('tspan').attr('dy',-3).text(' (°C)');
 const tsu=svg.append('text').attr('transform','translate(528,312) rotate(-90)').attr('text-anchor','middle').attr('font-size',11).attr('fill',BLUE);
 tsu.append('tspan').text('T');sub(tsu,'sucrose',8,3);tsu.append('tspan').attr('dy',-3).text(' (°C)');
 svg.append('text').attr('x',417).attr('y',286).attr('font-weight','bold').attr('font-size',12).text('D');
 mainTitle(569,535,t=>{t.append('tspan').text('Mean T');sub(t,'a',8.5,3);t.append('tspan').attr('dy',-3).text(' or ');
   t.append('tspan').attr('fill',BLUE).text('T');t.append('tspan').attr('fill',BLUE).attr('font-size',8.5).attr('dy',3).text('sucrose');t.append('tspan').attr('dy',-3).text(' (°C)');});
 rotLabel(398,393,t=>{t.append('tspan').text('Costs stay');sub(t,'-1',8,-5);t.append('tspan').attr('dy',5).text(' (J)');});
}
</script></body></html>
